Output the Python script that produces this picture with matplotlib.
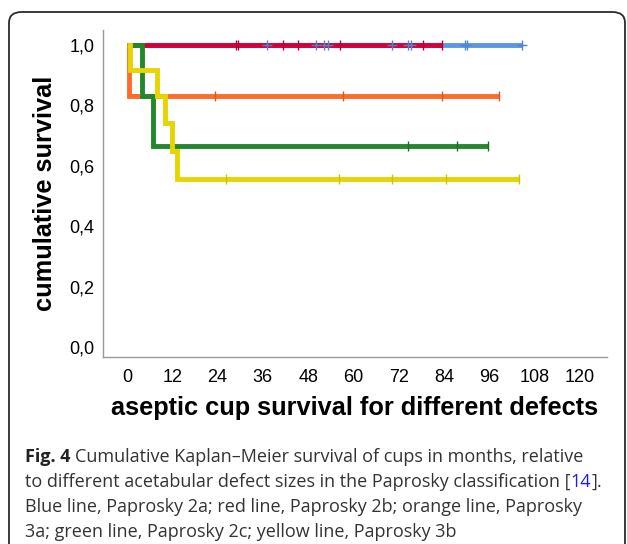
import matplotlib
matplotlib.use("Agg")
import matplotlib.pyplot as plt
from matplotlib.patches import FancyBboxPatch

# Kaplan-Meier steps (months, cumulative survival)
blue_t = [0, 104.6]
blue_s = [1.0, 1.0]
blue_cens = [37.1, 50.1, 52.2, 53.3, 70.2, 74.4, 75.2, 89.6, 90.2, 104.6]

red_t = [0, 83.4]
red_s = [1.0, 1.0]
red_cens = [28.9, 29.4, 41.3, 45.3, 56.4, 78.4, 83.4]

orange_t = [0, 0.6, 98.5]
orange_s = [1.0, 0.833, 0.833]
orange_cens = [23.3, 57.2, 83.4, 98.5]

green_t = [0, 4.0, 6.9, 95.6]
green_s = [1.0, 0.833, 0.667, 0.667]
green_cens = [74.4, 87.4, 95.6]

yellow_t = [0, 0.8, 7.9, 10.1, 11.9, 13.2, 103.8]
yellow_s = [1.0, 0.917, 0.833, 0.741, 0.648, 0.556, 0.556]
yellow_cens = [26.2, 56.2, 70.2, 84.5, 103.8]

x_ticks = [0, 12, 24, 36, 48, 60, 72, 84, 96, 108, 120]
y_ticks = [0.0, 0.2, 0.4, 0.6, 0.8, 1.0]


def cens_y(times, t, s):
    # survival value at each censoring time
    out = []
    for c in times:
        v = s[0]
        for ti, si in zip(t, s):
            if ti <= c:
                v = si
        out.append(v)
    return out


fig = plt.figure(figsize=(6.27, 5.44), dpi=100)
W, H = 627, 544

# rounded frame around figure + caption
frame = FancyBboxPatch((9 / W, -0.05), (625 - 9) / W, (H - 12) / H + 0.05,
                       boxstyle="round,pad=0,rounding_size=0.02",
                       transform=fig.transFigure, fill=False,
                       edgecolor="#2b2b2b", lw=1.3, clip_on=False)
fig.patches.append(frame)

ax = fig.add_axes([103 / W, 1 - 357 / H, (607 - 103) / W, (357 - 30) / H])

series = [
    (blue_t, blue_s, blue_cens, "#5b97e3", "#4a86d6", "+"),
    (red_t, red_s, red_cens, "#d4003c", "#b00030", "|"),
    (orange_t, orange_s, orange_cens, "#ff6b2b", "#e0551a", "|"),
    (green_t, green_s, green_cens, "#23872b", "#1a6e20", "|"),
    (yellow_t, yellow_s, yellow_cens, "#e6d500", "#d0c000", "|"),
]

for t, s, c, col, _, _ in series:
    ax.step(t, s, where="post", color=col, lw=3.5, solid_capstyle="butt",
            solid_joinstyle="miter")
for t, s, c, col, mcol, m in series:
    ax.plot(c, cens_y(c, t, s), ls="none", marker=m, ms=7, mew=1.0, color=mcol)

ax.set_xlim(-6.36, 127.2)
ax.set_ylim(-0.033, 1.05)
ax.set_xticks(x_ticks)
ax.set_xticklabels([str(v) for v in x_ticks])
ax.set_yticks(y_ticks)
ax.set_yticklabels([f"{v:.1f}".replace(".", ",") for v in y_ticks])
ax.tick_params(length=0, labelsize=13, pad=6)
for lab in ax.get_xticklabels() + ax.get_yticklabels():
    lab.set_family("Liberation Sans")
ax.tick_params(axis="x", pad=9)
for side in ["top", "right"]:
    ax.spines[side].set_visible(False)
for side in ["left", "bottom"]:
    ax.spines[side].set_color("#9a9a9a")
    ax.spines[side].set_linewidth(1.0)

ax.set_xlabel("aseptic cup survival for different defects", fontsize=18.3,
              fontweight="bold", family="Liberation Sans", labelpad=7)
ax.set_ylabel("cumulative survival", fontsize=18.3, fontweight="bold",
              family="Liberation Sans", labelpad=9)

# caption, built piece by piece so "Fig. 4" is bold and [14] has a blue link
renderer = fig.canvas.get_renderer()
cap_size = 13.0
cap_x0 = 25
baselines = [462, 487, 512, 537]
lines = [
    [("Fig. 4", "bold", "#222222"),
     (" Cumulative Kaplan\u2013Meier survival of cups in months, relative", "normal", "#333333")],
    [("to different acetabular defect sizes in the Paprosky classification [", "normal", "#333333"),
     ("14", "normal", "#1a1aff"), ("].", "normal", "#333333")],
    [("Blue line, Paprosky 2a; red line, Paprosky 2b; orange line, Paprosky", "normal", "#333333")],
    [("3a; green line, Paprosky 2c; yellow line, Paprosky 3b", "normal", "#333333")],
]
for pieces, yb in zip(lines, baselines):
    x = cap_x0
    for txt, wt, col in pieces:
        if txt.startswith(" "):
            txt = txt[1:]
            x += 4.7
        tt = fig.text(x / W, 1 - yb / H, txt, fontsize=cap_size, fontweight=wt,
                      color=col, family="Open Sans", va="baseline", ha="left")
        bb = tt.get_window_extent(renderer)
        x = bb.x1

fig.savefig("out.png", dpi=100)
